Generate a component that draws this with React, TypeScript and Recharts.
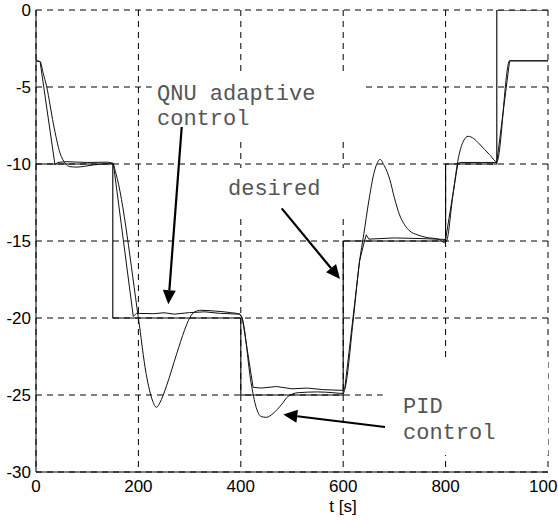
import React from 'react'
import {
  LineChart,
  Line,
  XAxis,
  YAxis,
  CartesianGrid,
  ReferenceArea,
  ReferenceLine,
} from 'recharts'

// desired trajectory (step changes)
const desiredT = [0, 150, 400, 600, 800, 900, 1000]
const desiredV = [-10, -20, -25, -15, -10, 0, 0]

// QNU adaptive control response
const qnuT = [
  0, 8, 37, 42, 60, 100, 140, 151, 190, 196, 230, 250, 270, 300, 330, 360, 398,
  403, 424, 440, 470, 500, 530, 560, 600, 603, 632, 640, 645, 650, 700, 760, 800,
  824, 830, 870, 900, 925, 1000,
]
const qnuV = [
  -3.3, -3.35, -10.05, -9.9, -9.85, -9.9, -9.88, -9.95, -19.9, -19.7, -19.72,
  -19.66, -19.75, -19.65, -19.6, -19.7, -19.75, -20.0, -24.5, -24.55, -24.45,
  -24.6, -24.55, -24.65, -24.7, -24.6, -16.3, -15.2, -14.6, -14.88, -14.8, -14.85,
  -14.9, -9.95, -9.9, -9.9, -9.9, -3.3, -3.3,
]

// PID control response
const pidT = [
  0, 8, 14, 21, 34, 47, 57, 66, 80, 95, 112, 130, 150, 156, 200, 215, 228, 235,
  242, 255, 275, 290, 300, 310, 322, 350, 380, 398, 404, 420, 430, 440, 450, 463,
  480, 492, 512, 550, 580, 600, 604, 620, 632, 640, 650, 660, 667, 672, 680, 691,
  700, 710, 720, 730, 745, 760, 788, 798, 802, 814, 825, 835, 844, 855, 866, 876,
  886, 900, 925, 1000,
]
const pidV = [
  -3.3, -3.35, -4.1, -5.0, -7.4, -9.3, -9.95, -10.17, -10.2, -10.15, -10.06, -10.0,
  -9.98, -10.6, -20.0, -23.6, -25.4, -25.8, -25.5, -24.4, -22.3, -20.8, -20.0,
  -19.6, -19.5, -19.55, -19.65, -19.75, -20.2, -24.2, -25.8, -26.4, -26.45, -26.2,
  -25.6, -25.1, -24.85, -24.8, -24.85, -24.9, -24.5, -20.0, -16.3, -14.6, -12.4,
  -10.6, -9.9, -9.7, -10.1, -11.0, -12.2, -13.3, -13.95, -14.35, -14.6, -14.75,
  -14.9, -15.12, -15.0, -12.1, -9.6, -8.5, -8.2, -8.35, -8.7, -9.05, -9.4, -9.85,
  -3.3, -3.3,
]

const xTicks = [0, 200, 400, 600, 800, 1000]
const yTicks = [-30, -25, -20, -15, -10, -5, 0]

const desiredData = desiredT.map((t, i) => ({ t, v: desiredV[i] }))
const qnuData = qnuT.map((t, i) => ({ t, v: qnuV[i] }))
const pidData = pidT.map((t, i) => ({ t, v: pidV[i] }))

const tickFont = { fontFamily: 'Liberation Sans, Arial, sans-serif', fontSize: 17, fill: '#000' }
const noteFont = { fontFamily: 'Liberation Mono, monospace', fontSize: 22, fill: '#555' }

// line with a filled arrowhead at (x2, y2)
const Arrow = (props: any) => {
  const { x1, y1, x2, y2 } = props
  const dx = x2 - x1
  const dy = y2 - y1
  const len = Math.sqrt(dx * dx + dy * dy) || 1
  const ux = dx / len
  const uy = dy / len
  const headLen = 14
  const headW = 6.5
  const bx = x2 - ux * headLen
  const by = y2 - uy * headLen
  const pts = `${x2},${y2} ${bx - uy * headW},${by + ux * headW} ${bx + uy * headW},${by - ux * headW}`
  return (
    <g>
      <line x1={x1} y1={y1} x2={bx} y2={by} stroke="#000" strokeWidth={2.2} />
      <polygon points={pts} fill="#000" />
    </g>
  )
}

export default function App() {
  return (
    <div style={{ position: 'absolute', left: 0, top: 0, width: 558, height: 520, overflow: 'hidden', background: '#fff' }}>
      <LineChart width={558} height={520} margin={{ top: 10, right: 10, bottom: 0, left: 0 }}>
        <CartesianGrid stroke="#000" strokeDasharray="6 5" strokeWidth={1} />
        <XAxis
          type="number"
          dataKey="t"
          domain={[0, 1000]}
          ticks={xTicks}
          interval={0}
          height={48}
          tickSize={0}
          tickMargin={8}
          tickLine={false}
          axisLine={{ stroke: '#000', strokeWidth: 1 }}
          tick={tickFont}
          allowDataOverflow
        />
        <YAxis
          type="number"
          domain={[-30, 0]}
          ticks={yTicks}
          interval={0}
          width={36}
          tickSize={0}
          tickMargin={5}
          tickLine={false}
          axisLine={{ stroke: '#000', strokeWidth: 1 }}
          tick={tickFont}
          allowDataOverflow
        />
        {/* white backgrounds of the annotation labels */}
        <ReferenceArea x1={226} x2={642} y1={-8.44} y2={-4.1} fill="#fff" fillOpacity={1} stroke="none" ifOverflow="visible" />
        <ReferenceArea x1={369} x2={613} y1={-13.3} y2={-10.26} fill="#fff" fillOpacity={1} stroke="none" ifOverflow="visible" />
        <ReferenceArea x1={677} x2={1000} y1={-28.9} y2={-22.7} fill="#fff" fillOpacity={1} stroke="none" ifOverflow="visible" />
        <Line data={desiredData} dataKey="v" type="stepAfter" stroke="#000" strokeWidth={1.1} dot={false} activeDot={false} isAnimationActive={false} />
        <Line data={qnuData} dataKey="v" type="linear" stroke="#111" strokeWidth={1} dot={false} activeDot={false} isAnimationActive={false} />
        <Line data={pidData} dataKey="v" type="monotone" stroke="#111" strokeWidth={1} dot={false} activeDot={false} isAnimationActive={false} />
        <ReferenceLine segment={[{ x: 284.6, y: -7.6 }, { x: 258.4, y: -19.1 }]} shape={Arrow} ifOverflow="visible" />
        <ReferenceLine segment={[{ x: 479.9, y: -12.88 }, { x: 593.7, y: -17.47 }]} shape={Arrow} ifOverflow="visible" />
        <ReferenceLine segment={[{ x: 681.6, y: -27.08 }, { x: 483, y: -26.27 }]} shape={Arrow} ifOverflow="visible" />
      </LineChart>
      {/* annotation texts on top of the chart */}
      <svg width={558} height={520} style={{ position: 'absolute', left: 0, top: 0, pointerEvents: 'none' }}>
        <text x={157} y={100} {...noteFont}>QNU adaptive</text>
        <text x={157} y={125} {...noteFont}>control</text>
        <text x={228} y={195} {...noteFont}>desired</text>
        <text x={403} y={413} {...noteFont}>PID</text>
        <text x={403} y={439} {...noteFont}>control</text>
        <text x={343} y={512} textAnchor="middle" {...tickFont}>t [s]</text>
      </svg>
    </div>
  )
}
